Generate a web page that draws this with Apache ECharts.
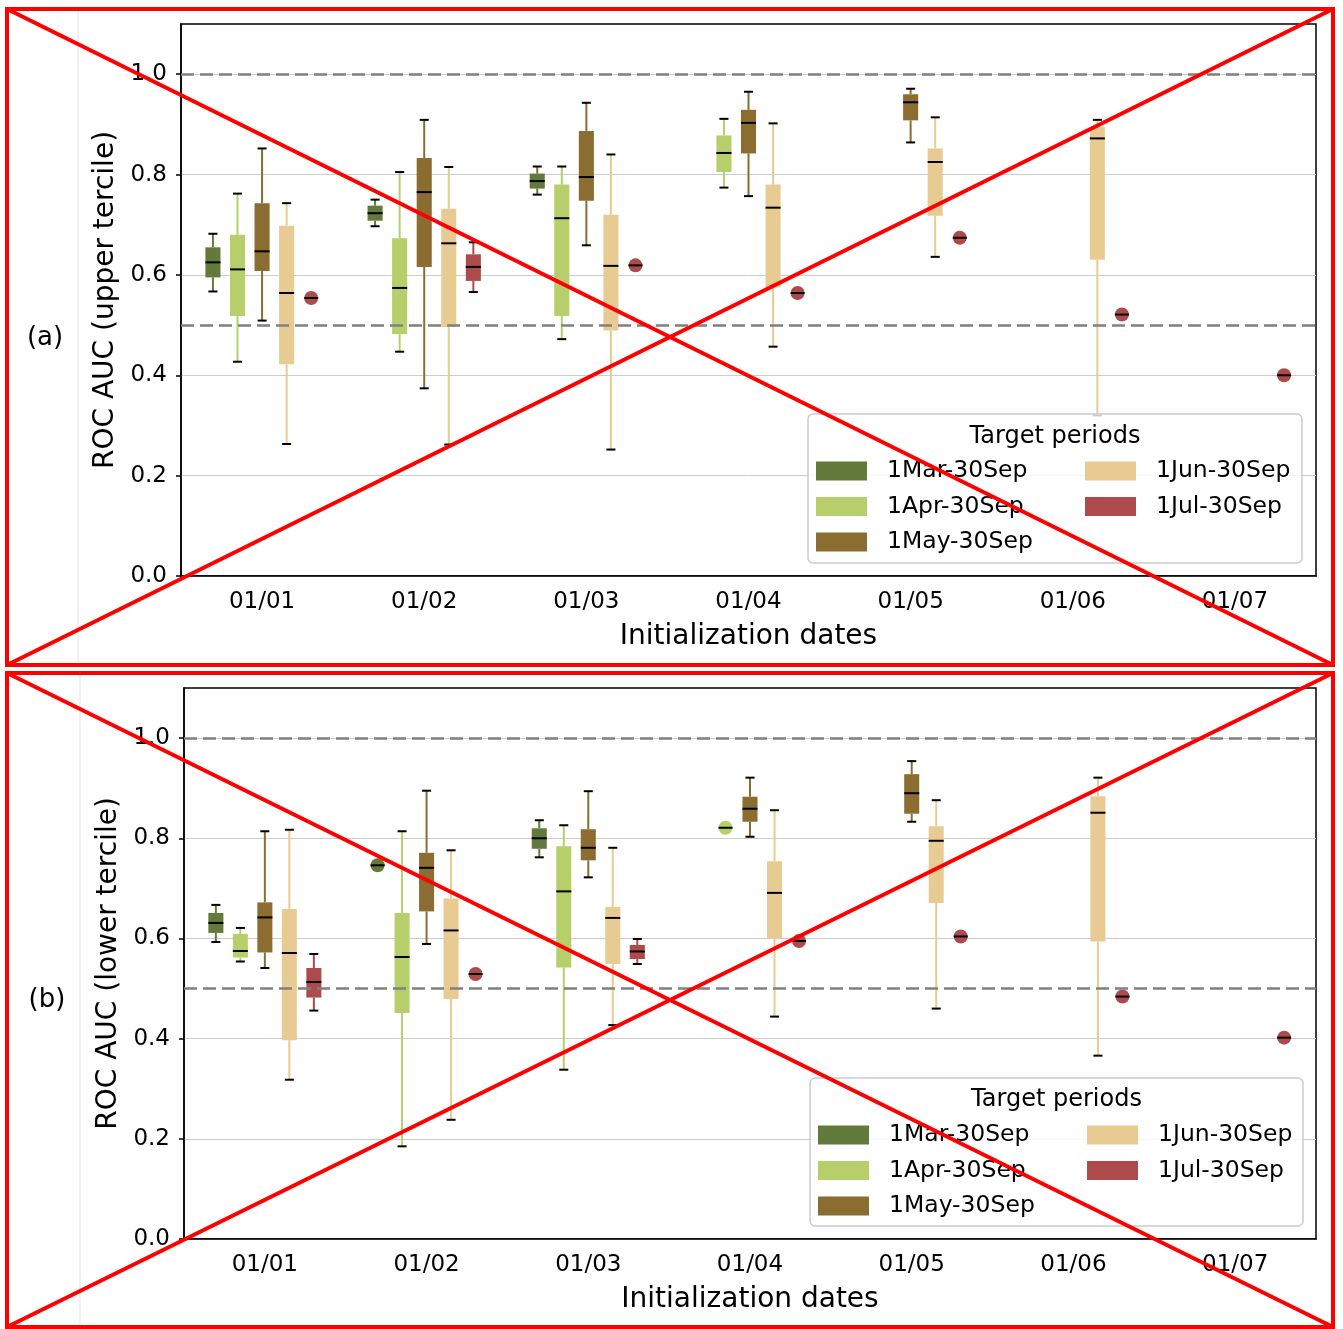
<!DOCTYPE html>
<html>
<head>
<meta charset="utf-8">
<title>ROC AUC by initialization date</title>
<script src="https://cdn.jsdelivr.net/npm/echarts@6/dist/echarts.min.js"></script>
<style>
html, body { margin: 0; padding: 0; background: #fff; }
#chart { width: 1343px; height: 1329px; }
</style>
</head>
<body>
<div id="chart"></div>
<script>
// initialization dates (x categories) and target periods (one box series each)
var dates = ['01/01', '01/02', '01/03', '01/04', '01/05', '01/06', '01/07'];
var periods = ['1Mar-30Sep', '1Apr-30Sep', '1May-30Sep', '1Jun-30Sep', '1Jul-30Sep'];
var colors = ['#647a3a', '#b7cf6b', '#8b6d32', '#e8cb93', '#ad4a4c'];
var yTicks = [0, 0.2, 0.4, 0.6, 0.8, 1.0];
var refLines = [0.5, 1.0];

// rows: [date index, min, q1, median, q3, max]
// upper tercile
var upperMar = [
    [0, 0.567, 0.595, 0.625, 0.655, 0.682],
    [1, 0.697, 0.708, 0.723, 0.738, 0.750],
    [2, 0.760, 0.772, 0.787, 0.802, 0.816]
];
var upperApr = [
    [0, 0.427, 0.518, 0.611, 0.680, 0.762],
    [1, 0.447, 0.482, 0.574, 0.673, 0.805],
    [2, 0.472, 0.518, 0.713, 0.780, 0.816],
    [3, 0.774, 0.805, 0.843, 0.878, 0.911]
];
var upperMay = [
    [0, 0.509, 0.608, 0.647, 0.743, 0.852],
    [1, 0.374, 0.616, 0.765, 0.833, 0.909],
    [2, 0.659, 0.748, 0.795, 0.887, 0.943],
    [3, 0.757, 0.842, 0.903, 0.929, 0.965],
    [4, 0.864, 0.908, 0.944, 0.960, 0.971]
];
var upperJun = [
    [0, 0.263, 0.422, 0.564, 0.698, 0.743],
    [1, 0.262, 0.496, 0.663, 0.732, 0.815],
    [2, 0.252, 0.489, 0.618, 0.720, 0.840],
    [3, 0.457, 0.575, 0.734, 0.780, 0.902],
    [4, 0.636, 0.718, 0.825, 0.852, 0.914],
    [5, 0.320, 0.630, 0.872, 0.895, 0.909]
];
var upperJul = [
    [0, 0.554, 0.554, 0.554, 0.554, 0.554],
    [1, 0.566, 0.588, 0.616, 0.641, 0.665],
    [2, 0.619, 0.619, 0.619, 0.619, 0.619],
    [3, 0.564, 0.564, 0.564, 0.564, 0.564],
    [4, 0.674, 0.674, 0.674, 0.674, 0.674],
    [5, 0.521, 0.521, 0.521, 0.521, 0.521],
    [6, 0.400, 0.400, 0.400, 0.400, 0.400]
];
// lower tercile
var lowerMar = [
    [0, 0.593, 0.611, 0.631, 0.651, 0.667],
    [1, 0.746, 0.746, 0.746, 0.746, 0.746],
    [2, 0.762, 0.779, 0.800, 0.820, 0.836]
];
var lowerApr = [
    [0, 0.554, 0.562, 0.575, 0.609, 0.621],
    [1, 0.185, 0.451, 0.563, 0.651, 0.814],
    [2, 0.338, 0.542, 0.694, 0.784, 0.826],
    [3, 0.821, 0.821, 0.821, 0.821, 0.821]
];
var lowerMay = [
    [0, 0.541, 0.572, 0.642, 0.672, 0.814],
    [1, 0.589, 0.654, 0.741, 0.771, 0.895],
    [2, 0.722, 0.756, 0.781, 0.818, 0.894],
    [3, 0.803, 0.833, 0.859, 0.883, 0.921],
    [4, 0.833, 0.849, 0.890, 0.928, 0.954]
];
var lowerJun = [
    [0, 0.318, 0.397, 0.571, 0.659, 0.817],
    [1, 0.238, 0.479, 0.616, 0.680, 0.776],
    [2, 0.427, 0.549, 0.641, 0.663, 0.781],
    [3, 0.444, 0.600, 0.691, 0.754, 0.856],
    [4, 0.460, 0.671, 0.795, 0.824, 0.876],
    [5, 0.366, 0.594, 0.851, 0.884, 0.921]
];
var lowerJul = [
    [0, 0.456, 0.482, 0.513, 0.541, 0.569],
    [1, 0.529, 0.529, 0.529, 0.529, 0.529],
    [2, 0.549, 0.559, 0.574, 0.587, 0.599],
    [3, 0.595, 0.595, 0.595, 0.595, 0.595],
    [4, 0.604, 0.604, 0.604, 0.604, 0.604],
    [5, 0.484, 0.484, 0.484, 0.484, 0.484],
    [6, 0.402, 0.402, 0.402, 0.402, 0.402]
];

var upperData = [upperMar, upperApr, upperMay, upperJun, upperJul];
var lowerData = [lowerMar, lowerApr, lowerMay, lowerJun, lowerJul];

var FONT = 'DejaVu Sans';

// draws one box (or a dot when all stats coincide), shifted inside the band by period
function boxRenderer(k) {
    return function (params, api) {
        var cat = api.value(0);
        var band = api.size([1, 0])[0];
        var dx = (k - 2) * band * 0.1515;
        var bw = band * 0.093;
        var pMax = api.coord([cat, api.value(5)]);
        var x = pMax[0] + dx;
        var yMin = api.coord([cat, api.value(1)])[1];
        var yQ1 = api.coord([cat, api.value(2)])[1];
        var yMed = api.coord([cat, api.value(3)])[1];
        var yQ3 = api.coord([cat, api.value(4)])[1];
        var yMax = pMax[1];
        var c = colors[k];
        var kids = [];
        if (api.value(1) === api.value(5)) {
            kids.push({ type: 'circle', shape: { cx: x, cy: yMed, r: 7 }, style: { fill: c } });
            kids.push({ type: 'line', shape: { x1: x - 7, y1: yMed, x2: x + 7, y2: yMed },
                style: { stroke: '#000', lineWidth: 2 } });
            return { type: 'group', children: kids };
        }
        var cap = bw * 0.3;
        kids.push({ type: 'line', shape: { x1: x, y1: yMax, x2: x, y2: yQ3 }, style: { stroke: c, lineWidth: 2 } });
        kids.push({ type: 'line', shape: { x1: x, y1: yQ1, x2: x, y2: yMin }, style: { stroke: c, lineWidth: 2 } });
        kids.push({ type: 'line', shape: { x1: x - cap, y1: yMax, x2: x + cap, y2: yMax }, style: { stroke: '#000', lineWidth: 2 } });
        kids.push({ type: 'line', shape: { x1: x - cap, y1: yMin, x2: x + cap, y2: yMin }, style: { stroke: '#000', lineWidth: 2 } });
        kids.push({ type: 'rect', shape: { x: x - bw / 2, y: yQ3, width: bw, height: yQ1 - yQ3 }, style: { fill: c } });
        kids.push({ type: 'line', shape: { x1: x - bw / 2, y1: yMed, x2: x + bw / 2, y2: yMed }, style: { stroke: '#000', lineWidth: 2 } });
        return { type: 'group', children: kids };
    };
}

function makeSeries(panel, data) {
    var out = [];
    periods.forEach(function (name, k) {
        out.push({
            name: name,
            type: 'custom',
            xAxisIndex: panel,
            yAxisIndex: panel,
            itemStyle: { color: colors[k] },
            renderItem: boxRenderer(k),
            encode: { x: 0, y: [1, 2, 3, 4, 5] },
            data: data[k],
            z: 2
        });
    });
    // dashed reference lines
    out.push({
        name: 'ref' + panel,
        type: 'custom',
        xAxisIndex: panel,
        yAxisIndex: panel,
        renderItem: function () { return null; },
        data: [],
        z: 3,
        markLine: {
            silent: true,
            symbol: ['none', 'none'],
            label: { show: false },
            lineStyle: { color: '#808080', type: [13, 6], width: 2.5 },
            data: refLines.map(function (v) { return { yAxis: v }; })
        }
    });
    return out;
}

function makeXAxis(panel) {
    return {
        type: 'category',
        gridIndex: panel,
        data: dates,
        name: 'Initialization dates',
        nameLocation: 'middle',
        nameGap: 47,
        nameTextStyle: { fontSize: 28, color: '#000', fontFamily: FONT },
        axisLine: { lineStyle: { color: '#000', width: 1.5 } },
        axisTick: { alignWithLabel: true, length: 5, lineStyle: { color: '#000', width: 1.5 } },
        axisLabel: { margin: 15, fontSize: 23, color: '#000', fontFamily: FONT },
        splitLine: { show: false }
    };
}

function makeYAxis(panel, name) {
    return {
        type: 'value',
        gridIndex: panel,
        min: 0,
        max: 1.1,
        interval: 0.2,
        name: name,
        nameLocation: 'middle',
        nameGap: 60,
        nameTextStyle: { fontSize: 28, color: '#000', fontFamily: FONT },
        axisLine: { show: true, lineStyle: { color: '#000', width: 1.5 } },
        axisTick: { show: true, length: 5, customValues: yTicks, lineStyle: { color: '#000', width: 1.5 } },
        axisLabel: {
            margin: 14, fontSize: 23, color: '#000', fontFamily: FONT,
            customValues: yTicks,
            formatter: function (v) { return v.toFixed(1); }
        },
        splitLine: { show: true, lineStyle: { color: '#cccccc', width: 1 } }
    };
}

function makeLegends(left1, left2, top) {
    var base = {
        orient: 'vertical',
        top: top,
        padding: 0,
        icon: 'rect',
        itemWidth: 51,
        itemHeight: 19,
        itemGap: 11.5,
        selectedMode: false,
        z: 5,
        textStyle: { fontSize: 23.5, color: '#000', fontFamily: FONT, padding: [0, 0, 0, 15], lineHeight: 20 }
    };
    return [
        Object.assign({}, base, { left: left1, data: periods.slice(0, 3) }),
        Object.assign({}, base, { left: left2, data: periods.slice(3) })
    ];
}

function legendFrame(x, y, w, h, titleY) {
    return [
        { type: 'rect', z: 3, shape: { x: x, y: y, width: w, height: h, r: 5 },
          style: { fill: 'rgba(255,255,255,0.8)', stroke: '#cccccc', lineWidth: 1.5 } },
        { type: 'text', z: 4, x: x + w / 2, y: titleY,
          style: { text: 'Target periods', font: '24px "DejaVu Sans"', fill: '#000', align: 'center', verticalAlign: 'middle' } }
    ];
}

function cross(x1, y1, x2, y2) {
    var st = { stroke: '#ff0000', lineWidth: 4, fill: null };
    return [
        { type: 'line', z: 100, shape: { x1: x1, y1: y1, x2: x2, y2: y2 }, style: st },
        { type: 'line', z: 100, shape: { x1: x1, y1: y2, x2: x2, y2: y1 }, style: st },
        { type: 'rect', z: 100, shape: { x: x1, y: y1, width: x2 - x1, height: y2 - y1 }, style: st }
    ];
}

var graphics = [].concat(
    [
        { type: 'line', z: 1, shape: { x1: 78, y1: 9, x2: 78, y2: 665 }, style: { stroke: '#e2e2e2', lineWidth: 1 } },
        { type: 'line', z: 1, shape: { x1: 80, y1: 673, x2: 80, y2: 1327 }, style: { stroke: '#e2e2e2', lineWidth: 1 } },
        { type: 'text', z: 4, x: 45, y: 338, style: { text: '(a)', font: '26px "DejaVu Sans"', fill: '#000', align: 'center', verticalAlign: 'middle' } },
        { type: 'text', z: 4, x: 47, y: 1000, style: { text: '(b)', font: '26px "DejaVu Sans"', fill: '#000', align: 'center', verticalAlign: 'middle' } }
    ],
    legendFrame(808, 414, 494, 149, 437),
    legendFrame(810, 1078, 493, 148, 1100),
    cross(7, 9, 1333, 665),
    cross(7, 673, 1333, 1327)
);

var option = {
    animation: false,
    backgroundColor: '#fff',
    textStyle: { fontFamily: FONT },
    grid: [
        { left: 181, top: 24, width: 1135, height: 552, show: true, borderColor: '#000', borderWidth: 1.5 },
        { left: 184, top: 688, width: 1132, height: 551, show: true, borderColor: '#000', borderWidth: 1.5 }
    ],
    xAxis: [makeXAxis(0), makeXAxis(1)],
    yAxis: [makeYAxis(0, 'ROC AUC (upper tercile)'), makeYAxis(1, 'ROC AUC (lower tercile)')],
    legend: [].concat(makeLegends(816, 1085, 459), makeLegends(818, 1087, 1123)),
    graphic: { elements: graphics },
    series: [].concat(makeSeries(0, upperData), makeSeries(1, lowerData))
};

var myChart = echarts.init(document.getElementById('chart'));
myChart.setOption(option);
</script>
</body>
</html>
